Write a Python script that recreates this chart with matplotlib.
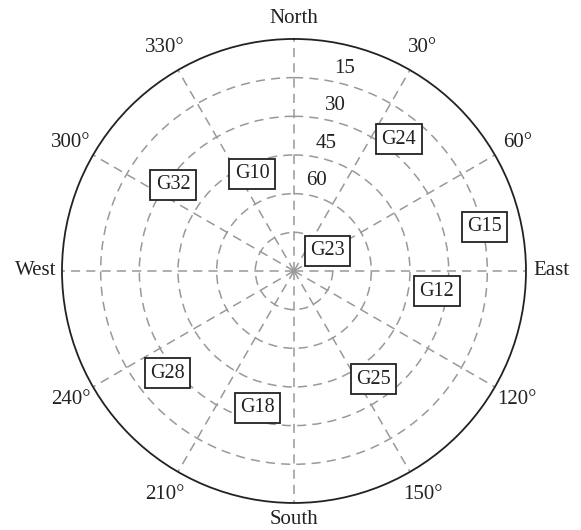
#!/usr/bin/env python3
"""GPS sky plot: satellite azimuth / elevation on a north-up polar grid."""
import numpy as np
import matplotlib
matplotlib.use("Agg")
import matplotlib.pyplot as plt

plt.rcParams["font.family"] = ["Liberation Serif", "DejaVu Serif"]

# satellites (azimuth deg clockwise from north, elevation deg)
sat_ids   = ["G24", "G10", "G32", "G15", "G23", "G12", "G25", "G28", "G18"]
azimuth   = [38.5, 336.6, 305.4, 77.0, 58.8, 98.0, 143.8, 231.0, 195.0]
elevation = [24.6, 49.0, 32.4, 14.0, 75.0, 34.0, 38.0, 27.0, 35.0]

# grid
elev_rings    = [75, 60, 45, 30, 15]
elev_labels   = ["", "60", "45", "30", "15"]
az_ticks      = [0, 30, 60, 90, 120, 150, 180, 210, 240, 270, 300, 330]
az_ticklabels = ["North", "30°", "60°", "East", "120°", "150°",
                 "South", "210°", "240°", "West", "300°", "330°"]

GRID_C = "#999999"
TEXT_C = "#222222"
FS = 15


def main():
    fig = plt.figure(figsize=(5.81, 5.30), dpi=100)
    ax = fig.add_axes([0.1067, 0.0510, 0.7986, 0.8755], projection="polar")
    ax.set_theta_zero_location("N")
    ax.set_theta_direction(-1)
    ax.set_ylim(0, 90)

    # radius = 90 - elevation (zenith in the centre)
    ax.set_rgrids([90 - e for e in elev_rings], labels=[""] * len(elev_rings))
    ax.set_thetagrids(az_ticks, labels=[""] * len(az_ticks))
    ax.grid(True, color=GRID_C, linestyle=(0, (6, 4)), linewidth=1.1)
    ax.spines["polar"].set_color(TEXT_C)
    ax.spines["polar"].set_linewidth(1.3)

    # azimuth labels just outside the horizon circle
    for az, lab in zip(az_ticks, az_ticklabels):
        r = {0: 98, 180: 96.3}.get(az, 100)
        ax.text(np.deg2rad(az), r, lab, ha="center", va="center",
                fontsize=FS, color=TEXT_C, clip_on=False)

    for e, lab in zip(elev_rings, elev_labels):
        if lab:
            ax.text(np.deg2rad(14), 90 - e + 6, lab, ha="center", va="center",
                    fontsize=FS, color=TEXT_C)

    for sid, az, el in zip(sat_ids, azimuth, elevation):
        ax.text(np.deg2rad(az), 90 - el, sid, ha="center", va="center",
                fontsize=14.5, color=TEXT_C, zorder=5,
                bbox=dict(boxstyle="square,pad=0.26", fc="white",
                          ec=TEXT_C, lw=1.3))

    fig.savefig("out.png", dpi=100)
    plt.close(fig)


if __name__ == "__main__":
    main()
